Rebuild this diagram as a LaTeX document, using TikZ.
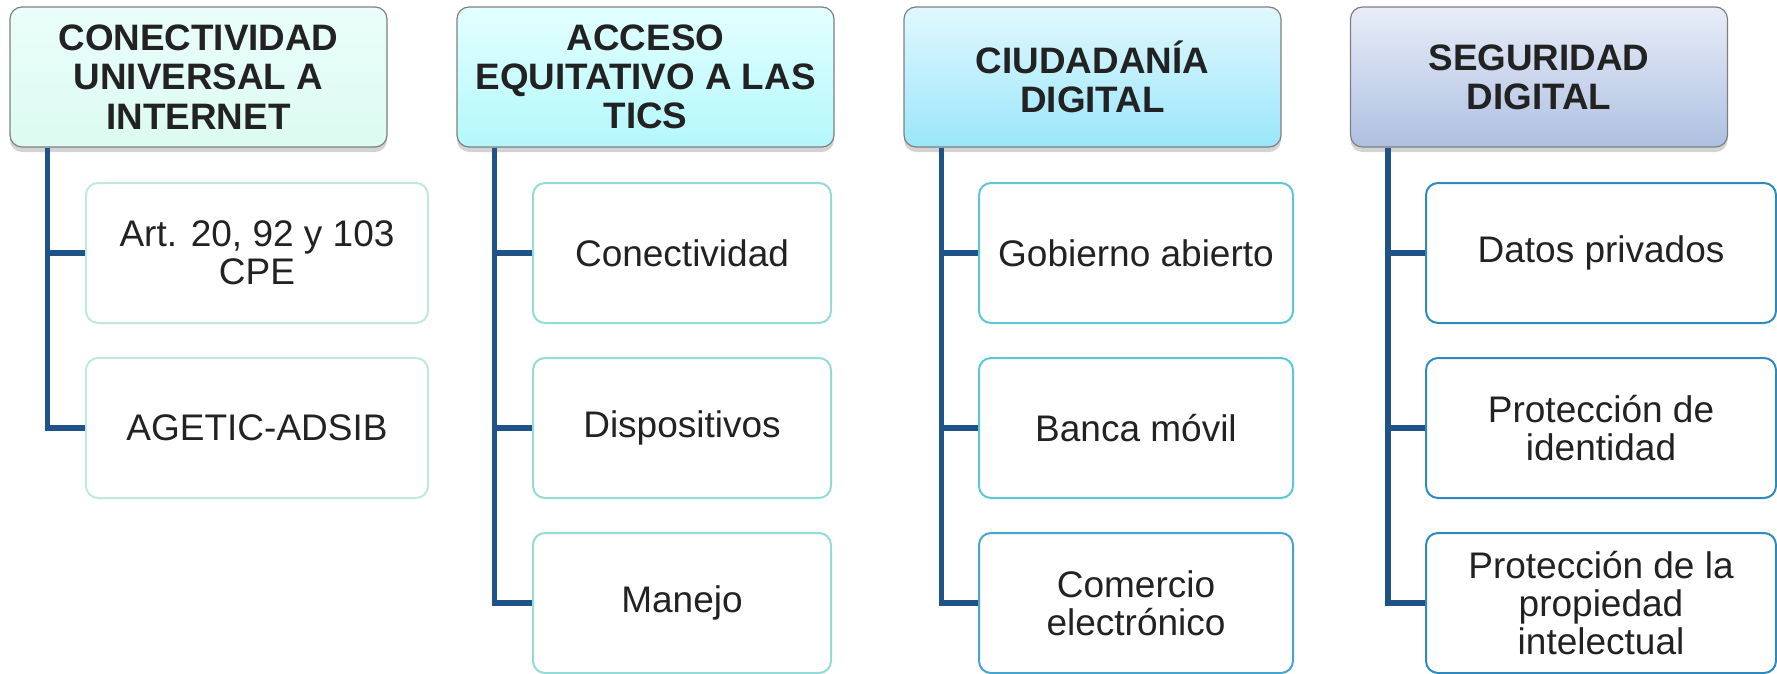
\documentclass[tikz,border=0pt]{standalone}
\usepackage{fontspec}
\setmainfont{Liberation Sans}
\usetikzlibrary{shadows}

\definecolor{ink}{HTML}{222222}
\definecolor{headgray}{HTML}{7F7F7F}
\definecolor{linkblue}{HTML}{1F5287}
\definecolor{mintA}{HTML}{EAFEFA}\definecolor{mintB}{HTML}{DCFBF1}
\definecolor{aquaA}{HTML}{E3FFFF}\definecolor{aquaB}{HTML}{B3F8FB}
\definecolor{skyA}{HTML}{E1F8FE}\definecolor{skyB}{HTML}{9AE6FB}
\definecolor{steelA}{HTML}{E8EDF8}\definecolor{steelB}{HTML}{AEC0E1}
\definecolor{mintline}{HTML}{BFE8DF}
\definecolor{aqualine}{HTML}{92DBD7}
\definecolor{skyline}{HTML}{5CC7D6}
\definecolor{skydark}{HTML}{44A6CE}
\definecolor{steelline}{HTML}{2E89BF}

\begin{document}
\begin{tikzpicture}[x=0.5pt, y=-0.5pt,
    every node/.style={rounded corners=6pt, align=center, text=ink},
    head/.style={draw=headgray, line width=0.6pt, minimum width=188.5pt, minimum height=70pt,
      font=\bfseries\fontsize{18.4}{19.6}\selectfont,
      drop shadow={shadow xshift=0pt, shadow yshift=-2.5pt, opacity=0.35}},
    item/.style={draw, fill=white, line width=1pt, minimum height=70pt,
      font=\fontsize{18.5}{19}\selectfont},
    link/.style={draw=linkblue, line width=2.6pt}]
    \useasboundingbox (0,0) rectangle (1777,674);

    % headers
    \node[head, top color=mintA, bottom color=mintB] (cu) at (198.5,77) {CONECTIVIDAD\\UNIVERSAL A\\INTERNET};
    \node[head, top color=aquaA, bottom color=aquaB] (ae) at (645.5,77) {ACCESO\\EQUITATIVO A LAS\\TICS};
    \node[head, top color=skyA, bottom color=skyB] (cd) at (1092.5,77) {CIUDADANÍA\\DIGITAL};
    \node[head, top color=steelA, bottom color=steelB] (sd) at (1539,77) {SEGURIDAD\\DIGITAL};

    % items
    \node[item, draw=mintline, minimum width=171pt] (cu1) at (257,253) {Art. 20, 92 y 103\\CPE};
    \node[item, draw=mintline, minimum width=171pt] (cu2) at (257,428) {AGETIC-ADSIB};

    \node[item, draw=aqualine, minimum width=149pt] (ae1) at (682,253) {Conectividad};
    \node[item, draw=aqualine, minimum width=149pt] (ae2) at (682,428) {Dispositivos};
    \node[item, draw=aqualine, minimum width=149pt] (ae3) at (682,603) {Manejo};

    \node[item, draw=skyline, minimum width=157pt] (cd1) at (1136,253) {Gobierno abierto};
    \node[item, draw=skyline, minimum width=157pt] (cd2) at (1136,428) {Banca móvil};
    \node[item, draw=skydark, minimum width=157pt] (cd3) at (1136,603) {Comercio\\electrónico};

    \node[item, draw=steelline, minimum width=175pt] (sd1) at (1601,253) {Datos privados};
    \node[item, draw=steelline, minimum width=175pt] (sd2) at (1601,428) {Protección de\\identidad};
    \node[item, draw=steelline, minimum width=175pt] (sd3) at (1601,603) {Protección de la\\propiedad\\intelectual};

    % links
    \draw[link] ([xshift=19pt]cu.south west) |- (cu1.west);
    \draw[link] ([xshift=19pt]cu.south west) |- (cu2.west);
    \draw[link] ([xshift=19pt]ae.south west) |- (ae1.west);
    \draw[link] ([xshift=19pt]ae.south west) |- (ae2.west);
    \draw[link] ([xshift=19pt]ae.south west) |- (ae3.west);
    \draw[link] ([xshift=19pt]cd.south west) |- (cd1.west);
    \draw[link] ([xshift=19pt]cd.south west) |- (cd2.west);
    \draw[link] ([xshift=19pt]cd.south west) |- (cd3.west);
    \draw[link] ([xshift=19pt]sd.south west) |- (sd1.west);
    \draw[link] ([xshift=19pt]sd.south west) |- (sd2.west);
    \draw[link] ([xshift=19pt]sd.south west) |- (sd3.west);
  \end{tikzpicture}
\end{document}
